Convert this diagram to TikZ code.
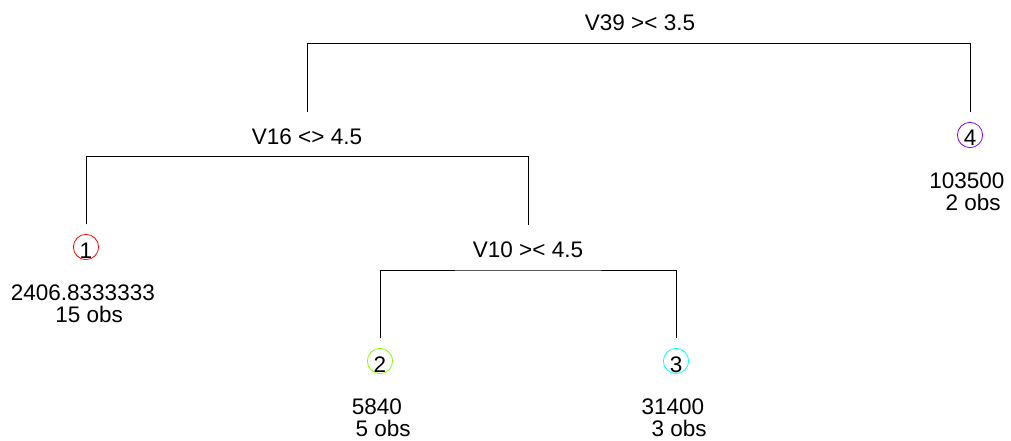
\documentclass[tikz,border=0pt]{standalone}
\usepackage{fontspec}
\setmainfont{Liberation Sans}
\usetikzlibrary{positioning}

\definecolor{leafred}{HTML}{FF0000}
\definecolor{leafgreen}{HTML}{80FF00}
\definecolor{leafcyan}{HTML}{00FFFF}
\definecolor{leafviolet}{HTML}{8000FF}
\newcommand{\obspad}{\hphantom{\ }}

\begin{document}
\begin{tikzpicture}[
                x = 1pt, y = -1pt, % pixel grid, y runs down
                line width = 0.9pt,
                node distance = 12.5pt,
                font = \fontsize{22.5pt}{22pt}\selectfont
                ]
                \tikzstyle{split}=[inner sep = 0pt]
                \tikzstyle{leaf}=[
                    circle,
                    draw,
                    line width = 0.8pt,
                    inner sep = 0pt,
                    text height = 22pt,
                    text depth = 0pt,
                ]
                \tikzstyle{leaftext}=[inner sep = 0pt]
                \useasboundingbox (0,0) rectangle (1011,441);

                % bars of the splits
                \coordinate (bar39) at (640,43.5);
                \coordinate (bar16) at (307,156.5);
                \coordinate (bar10) at (528,270);
                \coordinate (top16) at (307,112);
                \coordinate (top10) at (528,225);

                \node[split, above=of bar39, anchor=base] (s39) {V39 >< 3.5};
                \node[split, above=of bar16, anchor=base] (s16) {V16 <> 4.5};
                \node[split, above=of bar10, anchor=base] (s10) {V10 >< 4.5};

                % leaves
                \node[leaf, draw=leafred] (n1) at (86,247) {1};
                \node[leaf, draw=leafgreen] (n2) at (380,361) {2};
                \node[leaf, draw=leafcyan] (n3) at (676,361) {3};
                \node[leaf, draw=leafviolet] (n4) at (970,135) {4};

                \node[leaftext, below=53pt of n1.center, anchor=base] (v1) {2406.8333333\obspad};
                \node[leaftext, below=22pt of v1.base, anchor=base] (c1) {\obspad 15 obs};
                \node[leaftext, below=53pt of n2.center, anchor=base] (v2) {5840\obspad};
                \node[leaftext, below=22pt of v2.base, anchor=base] (c2) {\obspad 5 obs};
                \node[leaftext, below=53pt of n3.center, anchor=base] (v3) {31400\obspad};
                \node[leaftext, below=22pt of v3.base, anchor=base] (c3) {\obspad 3 obs};
                \node[leaftext, below=53pt of n4.center, anchor=base] (v4) {103500\obspad};
                \node[leaftext, below=22pt of v4.base, anchor=base] (c4) {\obspad 2 obs};

                % branches
                \draw[shorten > = 9.5pt] (top16) |- (bar39) -| (n4);
                \draw[shorten < = 9.5pt] (n1) |- (bar16) -| (top10);
                \draw[shorten < = 9.5pt, shorten > = 9.5pt] (n2) |- (bar10) -| (n3);
            \end{tikzpicture}
\end{document}
